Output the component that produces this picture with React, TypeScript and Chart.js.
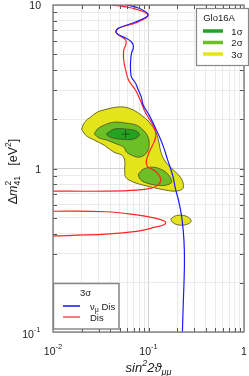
import React, { useEffect, useRef } from 'react';
import { Chart, registerables } from 'chart.js';

Chart.register(...registerables);

const FONT = '"Liberation Sans", Arial, Helvetica, sans-serif';

// grid / tick values
const xGrid = [0.01, 0.02, 0.03, 0.04, 0.05, 0.06, 0.07, 0.08, 0.09, 0.1, 0.2, 0.3, 0.4, 0.5, 0.6, 0.7, 0.8, 0.9, 1];
const yGrid = [0.1, 0.2, 0.3, 0.4, 0.5, 0.6, 0.7, 0.8, 0.9, 1, 2, 3, 4, 5, 6, 7, 8, 9, 10];
const xTickValues = [0.01, 0.1, 1];
const xTickBase = ['10', '10', '1'];
const xTickExp = ['-2', '-1', ''];
const yTickValues = [0.1, 1, 10];
const yTickBase = ['10', '1', '10'];
const yTickExp = ['-1', '', ''];

// nu_mu disappearance 3sigma bound (blue)
const blueX = [0.0590, 0.0783, 0.0992, 0.0730, 0.0489, 0.0456, 0.0489, 0.0577, 0.0664, 0.0696, 0.0664, 0.0649, 0.0649, 0.0664, 0.0730, 0.0783, 0.0841, 0.0882, 0.1016, 0.1197, 0.1413, 0.1589, 0.1788, 0.1919, 0.2060, 0.2212, 0.2318, 0.2373, 0.2373, 0.2318, 0.2264];
const blueY = [10, 9.59, 8.69, 7.87, 7.23, 6.83, 6.55, 6.28, 5.94, 5.53, 5.08, 4.48, 4.00, 3.62, 3.33, 3.02, 2.73, 2.44, 2.12, 1.74, 1.39, 1.125, 0.911, 0.748, 0.640, 0.518, 0.408, 0.316, 0.239, 0.156, 0.100];

// Dis 3sigma bound (red), main branch
const redX = [0.0414, 0.0664, 0.0992, 0.0730, 0.0489, 0.0456, 0.0489, 0.0577, 0.0577, 0.0550, 0.0550, 0.0577, 0.0619, 0.0730, 0.0821, 0.0902, 0.0992, 0.1143, 0.1197, 0.1143, 0.1016, 0.0946, 0.0992, 0.1143, 0.1285, 0.1348, 0.1256, 0.1065, 0.0747, 0.0395, 0.008];
const redY = [10, 9.59, 8.69, 7.76, 7.23, 6.83, 6.55, 6.11, 5.69, 5.30, 4.61, 4.00, 3.47, 3.02, 2.62, 2.28, 2.06, 1.79, 1.62, 1.45, 1.26, 1.094, 1.019, 0.977, 0.911, 0.849, 0.791, 0.758, 0.737, 0.727, 0.727];
// Dis 3sigma bound (red), lower loop
const redLoopX = [0.008, 0.0360, 0.0783, 0.1170, 0.1446, 0.1516, 0.1446, 0.1170, 0.0783, 0.0360, 0.008];
const redLoopY = [0.548, 0.544, 0.518, 0.497, 0.479, 0.466, 0.453, 0.4375, 0.414, 0.3965, 0.3855];

// Glo16A allowed regions
const s3MainX = [0.01995, 0.02142, 0.02467, 0.02910, 0.03684, 0.04664, 0.05631, 0.06961, 0.08407, 0.1016, 0.1197, 0.1285, 0.1348, 0.1516, 0.1831, 0.2160, 0.2318, 0.2264, 0.1919, 0.1516, 0.1197, 0.08815, 0.06961, 0.05766, 0.05631, 0.05631, 0.05248, 0.04345, 0.03432, 0.02711, 0.02193, 0.01995];
const s3MainY = [1.741, 1.921, 2.062, 2.213, 2.308, 2.374, 2.374, 2.276, 2.121, 1.921, 1.669, 1.450, 1.259, 1.094, 0.977, 0.885, 0.802, 0.748, 0.727, 0.737, 0.758, 0.791, 0.825, 0.885, 0.991, 1.125, 1.207, 1.259, 1.389, 1.491, 1.600, 1.741];
const s3IslandX = [0.1706, 0.1875, 0.2212, 0.2608, 0.2799, 0.2547, 0.2160, 0.1831, 0.1706];
const s3IslandY = [0.4896, 0.5108, 0.5181, 0.5037, 0.4760, 0.4563, 0.4499, 0.4628, 0.4896];
const s2UpperX = [0.02711, 0.02910, 0.03432, 0.04345, 0.05903, 0.07470, 0.08815, 0.09917, 0.1016, 0.09917, 0.09024, 0.07834, 0.06640, 0.05903, 0.05501, 0.04664, 0.03684, 0.03051, 0.02711];
const s2UpperY = [1.623, 1.741, 1.842, 1.921, 1.894, 1.842, 1.717, 1.556, 1.410, 1.295, 1.207, 1.173, 1.207, 1.259, 1.351, 1.410, 1.491, 1.534, 1.623];
const s2LowerX = [0.07834, 0.08815, 0.1116, 0.1413, 0.1627, 0.1747, 0.1516, 0.1197, 0.09024, 0.08022, 0.07834];
const s2LowerY = [0.9235, 0.9908, 1.019, 0.977, 0.911, 0.825, 0.791, 0.791, 0.825, 0.873, 0.9235];
const s1X = [0.03598, 0.04345, 0.05903, 0.07470, 0.08022, 0.06961, 0.05006, 0.03954, 0.03598];
const s1Y = [1.623, 1.741, 1.741, 1.693, 1.600, 1.512, 1.512, 1.556, 1.623];
const bestFitX = [0.0577];
const bestFitY = [1.623];

const legendSigma = ['1σ', '2σ', '3σ'];

const C1 = '#22a322';
const C2 = '#6cbf26';
const C3 = '#e4e41c';
const OUTLINE = '#4a4a22';
const BLUE = '#1c1cff';
const RED = '#ff2424';

const pts = (xs: number[], ys: number[]) => xs.map((x, i) => ({ x, y: ys[i] }));
const isDecade = (v: number) => Math.abs(Math.log10(v) - Math.round(Math.log10(v))) < 1e-6;

type Part = { t: string; s: number; dy?: number; it?: boolean; stack?: boolean };

function rich(ctx: CanvasRenderingContext2D, parts: Part[], x: number, y: number, align: 'left' | 'center' | 'right') {
  const font = (p: Part) => `${p.it ? 'italic ' : ''}${p.s}px ${FONT}`;
  let w = 0;
  parts.forEach((p) => {
    ctx.font = font(p);
    if (!p.stack) w += ctx.measureText(p.t).width;
  });
  let cx = align === 'left' ? x : align === 'center' ? x - w / 2 : x - w;
  ctx.textAlign = 'left';
  ctx.textBaseline = 'alphabetic';
  let lastX = cx;
  parts.forEach((p) => {
    ctx.font = font(p);
    if (p.stack) {
      ctx.fillText(p.t, lastX, y + (p.dy || 0));
      return;
    }
    ctx.fillText(p.t, cx, y + (p.dy || 0));
    lastX = cx;
    cx += ctx.measureText(p.t).width;
  });
}

const decoPlugin = {
  id: 'deco',
  afterDraw(chart: any) {
    const { ctx, chartArea: a, scales } = chart;
    const xs = scales.x;
    const ys = scales.y;
    ctx.save();

    // inner tick marks
    ctx.strokeStyle = '#555';
    ctx.lineWidth = 1;
    ctx.beginPath();
    xGrid.forEach((v) => {
      const px = Math.round(xs.getPixelForValue(v)) + 0.5;
      if (px <= a.left + 1 || px >= a.right - 1) return;
      ctx.moveTo(px, a.bottom);
      ctx.lineTo(px, a.bottom - 4);
      ctx.moveTo(px, a.top);
      ctx.lineTo(px, a.top + 4);
    });
    yGrid.forEach((v) => {
      const py = Math.round(ys.getPixelForValue(v)) + 0.5;
      if (py <= a.top + 1 || py >= a.bottom - 1) return;
      ctx.moveTo(a.left, py);
      ctx.lineTo(a.left + 4, py);
      ctx.moveTo(a.right, py);
      ctx.lineTo(a.right - 4, py);
    });
    ctx.stroke();

    // frame
    ctx.strokeStyle = '#777';
    ctx.lineWidth = 1.3;
    ctx.strokeRect(a.left, a.top, a.right - a.left, a.bottom - a.top);

    // tick labels
    ctx.fillStyle = '#1a1a1a';
    xTickValues.forEach((v, i) => {
      const px = xs.getPixelForValue(v);
      const parts: Part[] = [{ t: xTickBase[i], s: 10.5 }];
      if (xTickExp[i]) parts.push({ t: xTickExp[i], s: 7.5, dy: -6 });
      rich(ctx, parts, px, 354.5, 'center');
    });
    yTickValues.forEach((v, i) => {
      const py = ys.getPixelForValue(v);
      const parts: Part[] = [{ t: yTickBase[i], s: 10.5 }];
      if (yTickExp[i]) {
        parts.push({ t: yTickExp[i], s: 7.5, dy: -6 });
        rich(ctx, parts, 40.5, py + 6, 'right');
      } else {
        rich(ctx, parts, 41, py + 4, 'right');
      }
    });

    // axis titles
    rich(
      ctx,
      [
        { t: 'sin', s: 13, it: true },
        { t: '2', s: 9, dy: -6, it: true },
        { t: '2ϑ', s: 13, it: true },
        { t: 'μμ', s: 9, dy: 3, it: true },
      ],
      (a.left + a.right) / 2,
      372,
      'center'
    );
    ctx.save();
    ctx.translate(17, (a.top + a.bottom) / 2 + 3);
    ctx.rotate(-Math.PI / 2);
    rich(
      ctx,
      [
        { t: 'Δ', s: 12.5 },
        { t: 'm', s: 12.5, it: true },
        { t: '41', s: 8.5, dy: 3 },
        { t: '2', s: 8.5, dy: -6.5, stack: true },
        { t: '   [eV', s: 12.5 },
        { t: '2', s: 8.5, dy: -6 },
        { t: ']', s: 12.5 },
      ],
      0,
      0,
      'center'
    );
    ctx.restore();

    // legend Glo16A
    ctx.fillStyle = '#fff';
    ctx.fillRect(196.5, 8.5, 52, 57);
    ctx.strokeStyle = '#888';
    ctx.lineWidth = 1.2;
    ctx.strokeRect(196.5, 8.5, 52, 57);
    ctx.fillStyle = '#1a1a1a';
    rich(ctx, [{ t: 'Glo16A', s: 9.5 }], 219, 20.5, 'center');
    const lc = [C1, C2, C3];
    const ly = [31, 42.5, 54];
    legendSigma.forEach((lab, i) => {
      ctx.strokeStyle = lc[i];
      ctx.lineWidth = 3.5;
      ctx.beginPath();
      ctx.moveTo(203, ly[i]);
      ctx.lineTo(223, ly[i]);
      ctx.stroke();
      ctx.fillStyle = '#1a1a1a';
      rich(ctx, [{ t: lab, s: 9.5 }], 242.5, ly[i] + 3.5, 'right');
    });

    // legend 3sigma
    ctx.fillStyle = '#fff';
    ctx.fillRect(53.5, 283.5, 65.5, 45.5);
    ctx.strokeStyle = '#888';
    ctx.lineWidth = 1.5;
    ctx.strokeRect(53.5, 283.5, 65.5, 45.5);
    ctx.fillStyle = '#1a1a1a';
    rich(ctx, [{ t: '3σ', s: 9.5 }], 85.5, 295.5, 'center');
    ctx.strokeStyle = '#4d4dff';
    ctx.lineWidth = 2;
    ctx.beginPath();
    ctx.moveTo(63, 306);
    ctx.lineTo(80, 306);
    ctx.stroke();
    ctx.strokeStyle = RED;
    ctx.lineWidth = 1.2;
    ctx.beginPath();
    ctx.moveTo(63, 317);
    ctx.lineTo(80, 317);
    ctx.stroke();
    ctx.fillStyle = '#1a1a1a';
    rich(ctx, [{ t: 'ν', s: 9.5 }, { t: 'μ', s: 7, dy: 2.5 }, { t: ' Dis', s: 9.5 }], 90, 309.5, 'left');
    rich(ctx, [{ t: 'Dis', s: 9.5 }], 90, 320.5, 'left');

    ctx.restore();
  },
};

export default function App() {
  const ref = useRef<HTMLCanvasElement | null>(null);

  useEffect(() => {
    if (!ref.current) return;
    const lineDs = (data: any, color: string, w: number) => ({
      data,
      showLine: true,
      borderColor: color,
      borderWidth: w,
      pointRadius: 0,
      tension: 0.4,
      fill: false,
    });
    const regionDs = (data: any, color: string) => ({
      data,
      showLine: true,
      borderColor: OUTLINE,
      borderWidth: 0.8,
      backgroundColor: color,
      pointRadius: 0,
      tension: 0.35,
      fill: 'shape',
    });
    const chart = new Chart(ref.current, {
      type: 'scatter',
      data: {
        datasets: [
          lineDs(pts(blueX, blueY), BLUE, 1.2),
          lineDs(pts(redX, redY), RED, 1.2),
          lineDs(pts(redLoopX, redLoopY), RED, 1.2),
          {
            data: pts(bestFitX, bestFitY),
            pointStyle: 'cross',
            pointRadius: 4,
            borderColor: '#1f4d1f',
            borderWidth: 1,
            showLine: false,
          },
          regionDs(pts(s1X, s1Y), C1),
          regionDs(pts(s2LowerX, s2LowerY), C2),
          regionDs(pts(s2UpperX, s2UpperY), C2),
          regionDs(pts(s3IslandX, s3IslandY), C3),
          regionDs(pts(s3MainX, s3MainY), C3),
        ] as any,
      },
      options: {
        responsive: false,
        animation: false,
        devicePixelRatio: 1,
        layout: { padding: { left: 53, right: 1, top: 5, bottom: 44 } },
        plugins: { legend: { display: false }, tooltip: { enabled: false } },
        events: [],
        scales: {
          x: {
            type: 'logarithmic',
            min: 0.01,
            max: 1,
            afterBuildTicks: (s: any) => {
              s.ticks = xGrid.map((v) => ({ value: v }));
            },
            ticks: { display: false },
            border: { display: false },
            grid: {
              drawTicks: false,
              color: (c: any) => (isDecade(c.tick.value) ? '#d0d0d0' : '#eaeaea'),
            },
          },
          y: {
            type: 'logarithmic',
            min: 0.1,
            max: 10,
            afterBuildTicks: (s: any) => {
              s.ticks = yGrid.map((v) => ({ value: v }));
            },
            ticks: { display: false },
            border: { display: false },
            grid: {
              drawTicks: false,
              color: (c: any) => (isDecade(c.tick.value) ? '#d0d0d0' : '#eaeaea'),
            },
          },
        },
      } as any,
      plugins: [decoPlugin],
    });
    return () => chart.destroy();
  }, []);

  return (
    <div style={{ position: 'absolute', left: 0, top: 0, width: 249, height: 376, background: '#fff' }}>
      <canvas ref={ref} width={249} height={376} style={{ display: 'block', width: 249, height: 376 }} />
    </div>
  );
}
